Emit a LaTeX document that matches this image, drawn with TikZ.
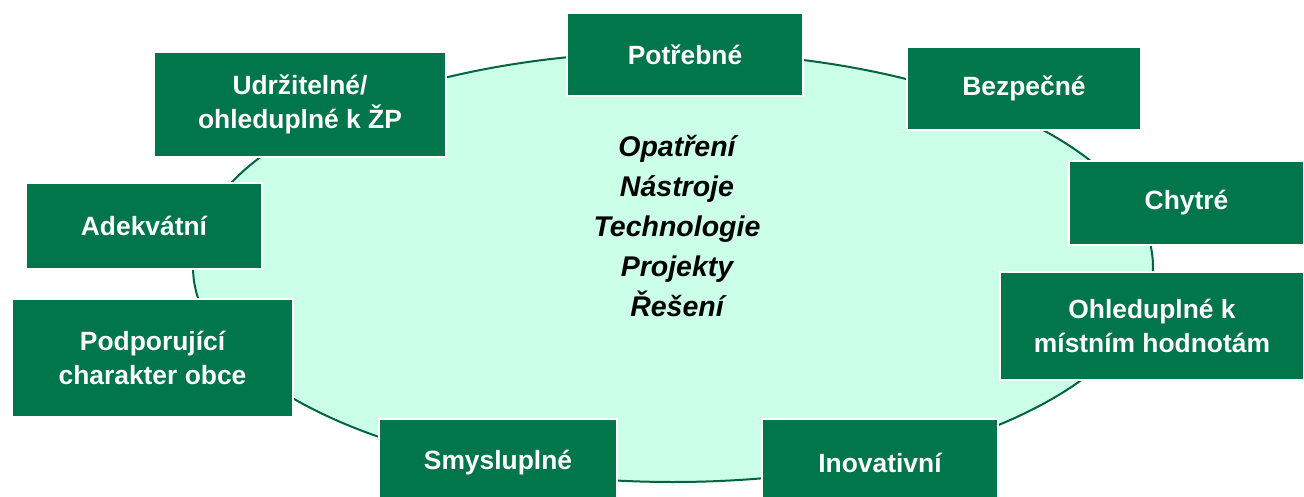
\documentclass[tikz,border=0pt]{standalone}
\usepackage{fontspec}
\setmainfont{Liberation Sans}
\definecolor{boxgreen}{RGB}{0,118,74}
\definecolor{ringgreen}{RGB}{0,100,62}
\definecolor{mintfill}{RGB}{204,255,232}
\tikzset{
  basic/.style   = {draw=white, line width=1.5pt, fill=boxgreen, text=white, rectangle,
                    font=\fontsize{26.4}{34}\selectfont\bfseries, align=center, inner sep=0pt},
  quality/.style = {basic, minimum width=236pt, minimum height=83pt},
  core/.style    = {font=\fontsize{28.5}{40}\selectfont\bfseries\itshape, align=center}
}

\begin{document}
\begin{tikzpicture}[x=1pt,y=-1pt]
\useasboundingbox (0,0) rectangle (1304,497);
\clip (0,0) rectangle (1304,497);
% central ellipse
\draw[ringgreen, line width=2pt, fill=mintfill] (673,267) ellipse [x radius=480, y radius=215];
\node[core] (means) at (677,226) {Opatření\\Nástroje\\Technologie\\Projekty\\Řešení};
% surrounding qualities
\node[quality] (needed) at (685,54.5) {Potřebné};
\node[quality, minimum width=234pt] (safe) at (1024,88.5) {Bezpečné};
\node[quality, minimum width=235pt, minimum height=84pt] (smart) at (1186.5,203) {Chytré};
\node[quality, minimum width=304pt, minimum height=108pt] (local) at (1152,326) {Ohleduplné k\\místním hodnotám};
\node[quality, minimum height=88pt] (innov) at (880,463) {Inovativní};
\node[quality, minimum width=238pt, minimum height=88pt] (sense) at (498,463) {Smysluplné};
\node[quality, minimum width=281pt, minimum height=118pt] (village) at (152.5,358) {Podporující\\charakter obce};
\node[quality, minimum height=86pt] (adequate) at (144,226) {Adekvátní};
\node[quality, minimum width=292pt, minimum height=105pt] (sustain) at (300,104.5) {Udržitelné/\\ohleduplné k ŽP};
\end{tikzpicture}
\end{document}
